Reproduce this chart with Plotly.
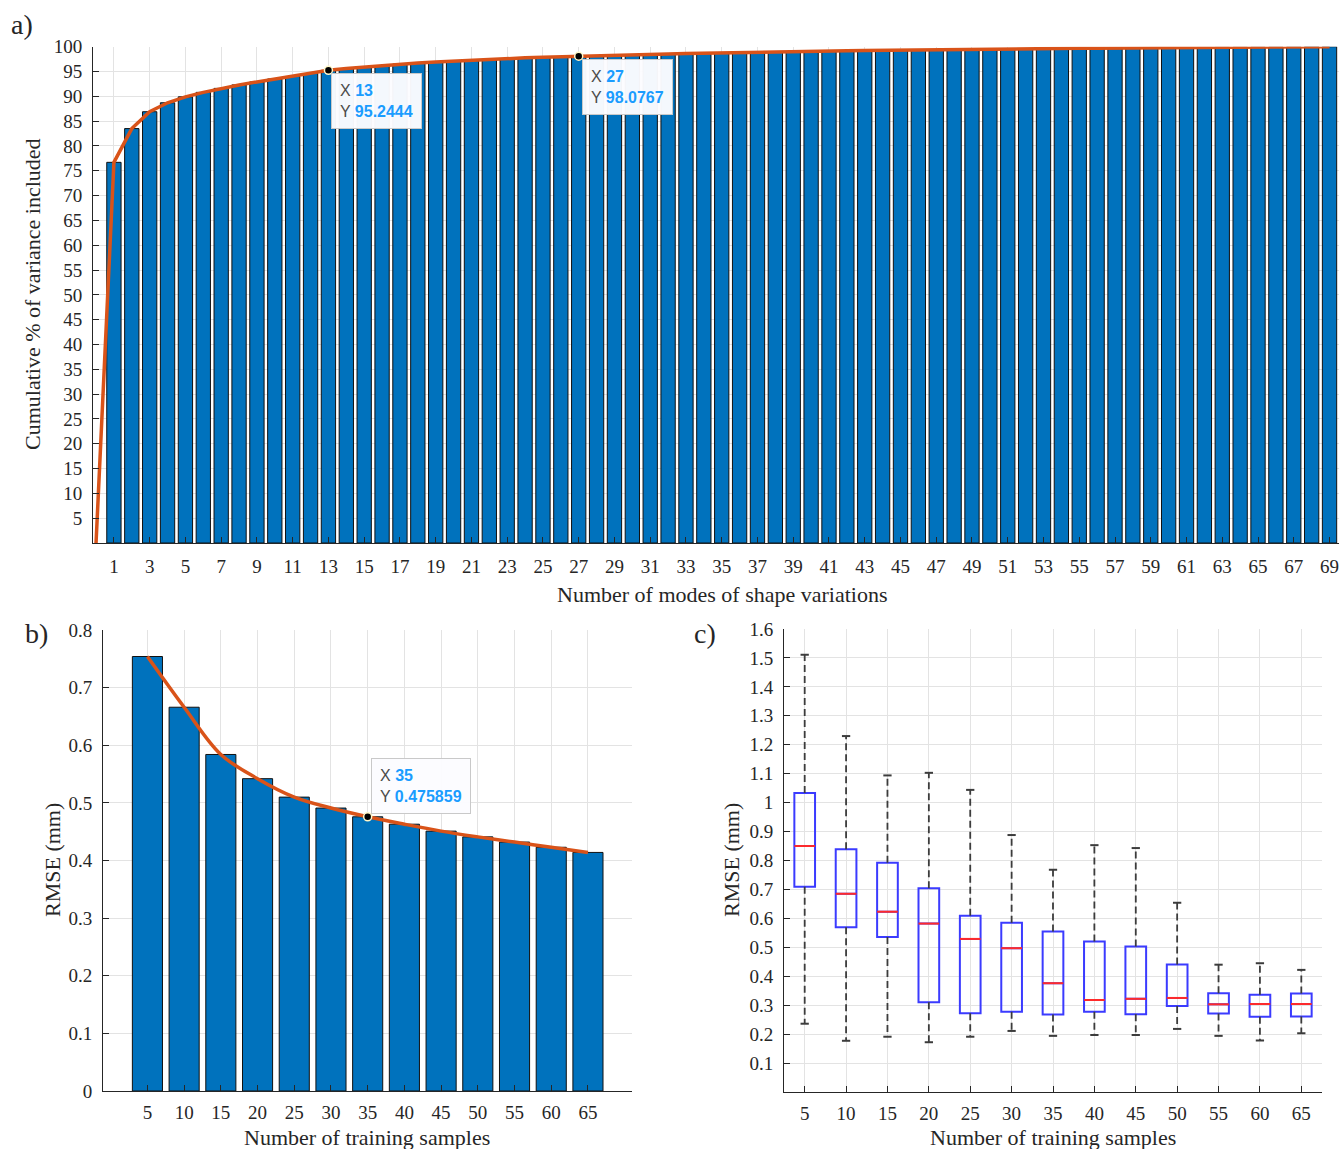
import plotly.graph_objects as go

# ---- data -------------------------------------------------------------
modes = list(range(1, 70))
cum_var = [
    76.7, 83.5, 86.9, 88.7, 89.9, 90.8, 91.6, 92.3, 92.9, 93.5,
    94.0, 94.6, 95.2444, 95.6, 95.9, 96.2, 96.5, 96.7, 96.9, 97.1,
    97.3, 97.45, 97.6, 97.75, 97.85, 97.97, 98.0767, 98.18, 98.28, 98.37,
    98.46, 98.54, 98.62, 98.70, 98.77, 98.84, 98.91, 98.97, 99.03, 99.09,
    99.14, 99.19, 99.24, 99.29, 99.33, 99.37, 99.41, 99.45, 99.49, 99.52,
    99.56, 99.59, 99.62, 99.65, 99.68, 99.71, 99.73, 99.76, 99.78, 99.81,
    99.83, 99.85, 99.88, 99.90, 99.92, 99.94, 99.96, 99.98, 100.0,
]
tip_modes = [13, 27]

samples = [5, 10, 15, 20, 25, 30, 35, 40, 45, 50, 55, 60, 65]
rmse_mean = [0.754, 0.666, 0.584, 0.542, 0.510, 0.491, 0.475859,
             0.463, 0.451, 0.441, 0.432, 0.423, 0.414]
tip_sample = 35

box_lo = [0.236, 0.177, 0.191, 0.172, 0.191, 0.211, 0.194, 0.197, 0.197, 0.218, 0.194, 0.178, 0.203]
box_q1 = [0.709, 0.569, 0.536, 0.310, 0.272, 0.277, 0.268, 0.277, 0.269, 0.297, 0.271, 0.260, 0.261]
box_med = [0.850, 0.685, 0.623, 0.582, 0.529, 0.497, 0.376, 0.318, 0.322, 0.325, 0.303, 0.304, 0.304]
box_q3 = [1.033, 0.839, 0.792, 0.704, 0.609, 0.585, 0.555, 0.520, 0.503, 0.441, 0.341, 0.336, 0.340]
box_hi = [1.511, 1.230, 1.094, 1.103, 1.044, 0.888, 0.768, 0.853, 0.843, 0.654, 0.440, 0.445, 0.422]

# ---- styling ----------------------------------------------------------
W, H = 1339, 1149
BLUE = "#0072BD"
ORANGE = "#D95319"
INK = "#262626"
GRID = "#e3e3e3"
SERIF = "Liberation Serif, Times New Roman, serif"
SANS = "Liberation Sans, Arial, sans-serif"
TIP_BLUE = "#1a9cff"


def fx(p):
    return p / W


def fy(p):
    return 1 - p / H


def axis_style(**kw):
    d = dict(
        showline=True, linecolor=INK, linewidth=1, mirror=False,
        ticks="inside", ticklen=6, tickcolor=INK, tickwidth=1,
        showgrid=True, gridcolor=GRID, gridwidth=1, zeroline=False,
        tickfont=dict(family=SERIF, size=19, color=INK),
        fixedrange=True, automargin=False, ticklabeloverflow="allow",
    )
    d.update(kw)
    return d


fig = go.Figure()

# ---- a) cumulative variance ------------------------------------------
fig.add_trace(go.Bar(
    x=modes, y=cum_var, width=0.8,
    marker=dict(color=BLUE, line=dict(color="#111111", width=1)),
    xaxis="x", yaxis="y", showlegend=False,
))
fig.add_trace(go.Scatter(
    x=[0] + modes, y=[0] + cum_var, mode="lines",
    line=dict(color=ORANGE, width=3.5),
    xaxis="x", yaxis="y", showlegend=False,
))
tip_a_y = [cum_var[m - 1] for m in tip_modes]
fig.add_trace(go.Scatter(
    x=tip_modes, y=tip_a_y, mode="markers",
    marker=dict(color="black", size=8, line=dict(color="#fff7c8", width=1.5)),
    xaxis="x", yaxis="y", showlegend=False,
))

# ---- b) mean RMSE vs training size ------------------------------------
fig.add_trace(go.Bar(
    x=samples, y=rmse_mean, width=4.1,
    marker=dict(color=BLUE, line=dict(color="#111111", width=1)),
    xaxis="x2", yaxis="y2", showlegend=False,
))
fig.add_trace(go.Scatter(
    x=samples, y=rmse_mean, mode="lines",
    line=dict(color=ORANGE, width=3.5, shape="spline", smoothing=1.0),
    xaxis="x2", yaxis="y2", showlegend=False,
))
tip_b_y = rmse_mean[samples.index(tip_sample)]
fig.add_trace(go.Scatter(
    x=[tip_sample], y=[tip_b_y], mode="markers",
    marker=dict(color="black", size=8, line=dict(color="#fff7c8", width=1.5)),
    xaxis="x2", yaxis="y2", showlegend=False,
))

# ---- c) RMSE distribution box plots -----------------------------------
box_w = 2.5
cap_w = 0.5
wx, wy, cx, cy, mx, my = [], [], [], [], [], []
for s, lo, q1, md, q3, hi in zip(samples, box_lo, box_q1, box_med, box_q3, box_hi):
    wx += [s, s, None, s, s, None]
    wy += [q3, hi, None, q1, lo, None]
    cx += [s - cap_w, s + cap_w, None, s - cap_w, s + cap_w, None]
    cy += [hi, hi, None, lo, lo, None]
    mx += [s - box_w / 2, s + box_w / 2, None]
    my += [md, md, None]

fig.add_trace(go.Scatter(
    x=wx, y=wy, mode="lines",
    line=dict(color="#3c3c3c", width=1.8, dash="7px,4px"),
    xaxis="x3", yaxis="y3", showlegend=False,
))
fig.add_trace(go.Scatter(
    x=cx, y=cy, mode="lines",
    line=dict(color="#3c3c3c", width=2),
    xaxis="x3", yaxis="y3", showlegend=False,
))
fig.add_trace(go.Box(
    x=samples, q1=box_q1, median=box_med, q3=box_q3,
    lowerfence=box_q1, upperfence=box_q3,
    width=box_w, whiskerwidth=0, boxpoints=False,
    fillcolor="rgba(0,0,0,0)", line=dict(color="#3b3bff", width=2),
    xaxis="x3", yaxis="y3", showlegend=False,
))
fig.add_trace(go.Scatter(
    x=mx, y=my, mode="lines",
    line=dict(color="#ff2a2a", width=2),
    xaxis="x3", yaxis="y3", showlegend=False,
))

# ---- axes -------------------------------------------------------------
a_x_ticks = list(range(1, 70, 2))
a_y_ticks = list(range(5, 101, 5))
b_y_ticks = [round(0.1 * i, 1) for i in range(0, 9)]
c_y_ticks = [round(0.1 * i, 1) for i in range(1, 17)]


def lbl(v):
    return f"{v:g}"


fig.update_layout(
    xaxis=axis_style(
        domain=[fx(93), 1.0], range=[-0.17, 69.53], anchor="y",
        tickvals=a_x_ticks, ticktext=[lbl(v) for v in a_x_ticks],
        ticklabelstandoff=6,
    ),
    yaxis=axis_style(
        domain=[fy(543), fy(46.7)], range=[0, 100], anchor="x",
        tickvals=a_y_ticks, ticktext=[lbl(v) for v in a_y_ticks],
        ticklabelstandoff=6,
    ),
    xaxis2=axis_style(
        domain=[fx(103), fx(632)], range=[-1.05, 71], anchor="y2",
        tickvals=samples, ticktext=[lbl(v) for v in samples],
        ticklabelstandoff=4,
    ),
    yaxis2=axis_style(
        domain=[fy(1091), fy(630)], range=[0, 0.8], anchor="x2",
        tickvals=b_y_ticks, ticktext=[lbl(v) for v in b_y_ticks],
        ticklabelstandoff=6,
    ),
    xaxis3=axis_style(
        domain=[fx(784), fx(1322)], range=[2.5, 67.5], anchor="y3",
        tickvals=samples, ticktext=[lbl(v) for v in samples],
        ticklabelstandoff=4,
    ),
    yaxis3=axis_style(
        domain=[fy(1092), fy(629)], range=[0, 1.6], anchor="x3",
        tickvals=c_y_ticks, ticktext=[lbl(v) for v in c_y_ticks],
        ticklabelstandoff=6,
    ),
)


# ---- titles, panel letters and data tips -------------------------------
def text_ann(x, y, text, size=22, angle=0, **kw):
    d = dict(
        x=fx(x), y=fy(y), xref="paper", yref="paper", text=text,
        showarrow=False, textangle=angle, xanchor="center", yanchor="middle",
        font=dict(family=SERIF, size=size, color=INK),
    )
    d.update(kw)
    return d


def tip_text(xv, yv):
    return (
        f"X <b><span style='color:{TIP_BLUE}'>{xv:g}</span></b><br>"
        f"Y <b><span style='color:{TIP_BLUE}'>{yv:g}</span></b>"
    )


def tip_ann(xv, yv, xref, yref, above=False):
    return dict(
        x=xv, y=yv, xref=xref, yref=yref, text=tip_text(xv, yv),
        showarrow=False, align="left",
        xanchor="left", yanchor="bottom" if above else "top",
        xshift=3, yshift=3 if above else -3,
        font=dict(family=SANS, size=16, color="#4a4a4a"),
        bgcolor="rgba(252,252,255,0.97)", bordercolor="#c9c9c9",
        borderwidth=1, borderpad=8,
    )


annotations = [
    text_ann(22, 25, "a)", size=28),
    text_ann(36, 633, "b)", size=28),
    text_ann(705, 633, "c)", size=28),
    text_ann(33, 294, "Cumulative % of variance included", angle=-90),
    text_ann(722, 594, "Number of modes of shape variations"),
    text_ann(52, 860, "RMSE (mm)", angle=-90),
    text_ann(367, 1137, "Number of training samples"),
    text_ann(731, 860, "RMSE (mm)", angle=-90),
    text_ann(1053, 1137, "Number of training samples"),
]
for m, yv in zip(tip_modes, tip_a_y):
    annotations.append(tip_ann(m, yv, "x", "y"))
annotations.append(tip_ann(tip_sample, tip_b_y, "x2", "y2", above=True))

fig.update_layout(
    width=W, height=H,
    margin=dict(l=0, r=0, t=0, b=0, autoexpand=False),
    paper_bgcolor="white", plot_bgcolor="white",
    font=dict(family=SERIF, color=INK),
    showlegend=False,
    annotations=annotations,
    hovermode=False,
)

fig.write_html("out.html", config={"displayModeBar": False})
